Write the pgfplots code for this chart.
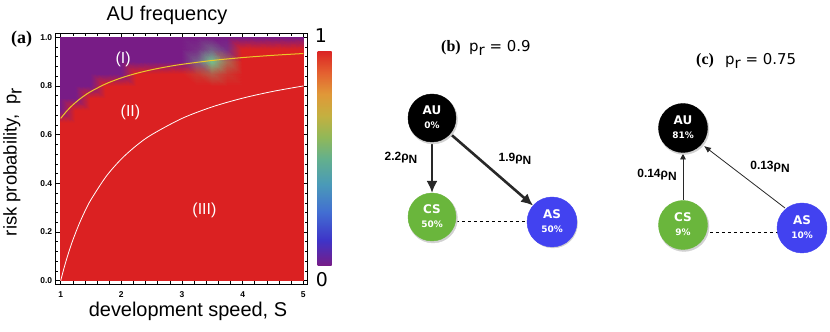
\documentclass[border=0pt]{standalone}
\usepackage{fontspec}
\setmainfont{Liberation Sans}
\newfontfamily\serifb{Liberation Serif}
\newfontfamily\dejavu{DejaVu Sans}
\usepackage{pgfplots}
\pgfplotsset{compat=1.18}
\usetikzlibrary{arrows.meta}

\definecolor{nodegreen}{RGB}{106,182,60}
\definecolor{nodeblue}{RGB}{66,66,240}
\definecolor{arrowgray}{RGB}{40,40,40}
\definecolor{curveyellow}{RGB}{236,200,40}

% Mathematica-like "Rainbow" scale for the colour bar
\pgfplotsset{
  colormap={mmrainbow}{
    rgb255(0pt)=(120,28,134)
    rgb255(12pt)=(62,52,200)
    rgb255(25pt)=(66,110,210)
    rgb255(38pt)=(74,154,184)
    rgb255(50pt)=(100,176,140)
    rgb255(60pt)=(145,184,88)
    rgb255(70pt)=(196,176,64)
    rgb255(80pt)=(224,152,56)
    rgb255(90pt)=(228,96,48)
    rgb255(100pt)=(219,36,36)
  }
}

\begin{document}
\begin{tikzpicture}
\useasboundingbox (0,0) rectangle (830bp,332bp);

% ---------------- panel (a): AU frequency ----------------
\begin{axis}[
  at={(55.7bp,48bp)}, anchor=south west,
  scale only axis, width=252bp, height=250.7bp,
  xmin=0.9176, xmax=5.0725, ymin=-0.0136, ymax=1.0164,
  xtick={1,2,3,4,5}, ytick={0,0.2,0.4,0.6,0.8,1},
  minor x tick num=4, minor y tick num=4,
  tick align=inside, tick pos=both,
  xticklabel pos=left, yticklabel pos=left,
  major tick length=4bp, minor tick length=2.5bp,
  tick style={black, line width=0.6bp},
  axis line style={line width=1bp},
  /pgf/number format/assume math mode=true,
  tick label style={font=\fontsize{8.5}{9}\selectfont\bfseries},
  yticklabel style={/pgf/number format/fixed, /pgf/number format/fixed zerofill,
                    /pgf/number format/precision=1},
  xticklabel style={yshift=-4bp},
  point meta min=0, point meta max=1,
  colormap name=mmrainbow,
  colorbar,
  colorbar style={at={(parent axis.north east)}, anchor=north west,
                  xshift=1.3bp, yshift=-17.7bp, scale only axis,
                  width=24bp, height=215bp, ytick=\empty,
                  axis line style={draw=none}},
]
% AU frequency v on a (S, p_r) grid; colours interpolated between the grid points
\addplot[surf, shader=interp, mesh/color input=explicit mathparse,
  point meta={symbolic={
    (\thisrow{v}<0.45 ? 0.471-0.04*\thisrow{v} : 0.45+0.74*(\thisrow{v}-0.45)),
    (\thisrow{v}<0.45 ? 0.109+1.42*\thisrow{v} : 0.75-1.125*(\thisrow{v}-0.45)),
    (\thisrow{v}<0.45 ? 0.527+0.05*\thisrow{v} : 0.55-0.76*(\thisrow{v}-0.45))}}]
  table[x=S, y=p] {
S p v
1 0 1
1.25 0 1
1.5 0 1
1.75 0 1
2 0 1
2.25 0 1
2.5 0 1
2.75 0 1
3 0 1
3.25 0 1
3.5 0 1
3.75 0 1
4 0 1
4.25 0 1
4.5 0 1
4.75 0 1
5 0 1

1 0.65 1
1.25 0.65 1
1.5 0.65 1
1.75 0.65 1
2 0.65 1
2.25 0.65 1
2.5 0.65 1
2.75 0.65 1
3 0.65 1
3.25 0.65 1
3.5 0.65 1
3.75 0.65 1
4 0.65 1
4.25 0.65 1
4.5 0.65 1
4.75 0.65 1
5 0.65 1

1 0.7 0
1.25 0.7 1
1.5 0.7 1
1.75 0.7 1
2 0.7 1
2.25 0.7 1
2.5 0.7 1
2.75 0.7 1
3 0.7 1
3.25 0.7 1
3.5 0.7 1
3.75 0.7 1
4 0.7 1
4.25 0.7 1
4.5 0.7 1
4.75 0.7 1
5 0.7 1

1 0.75 0
1.25 0.75 0
1.5 0.75 1
1.75 0.75 1
2 0.75 1
2.25 0.75 1
2.5 0.75 1
2.75 0.75 1
3 0.75 1
3.25 0.75 1
3.5 0.75 1
3.75 0.75 1
4 0.75 1
4.25 0.75 1
4.5 0.75 1
4.75 0.75 1
5 0.75 1

1 0.8 0
1.25 0.8 0
1.5 0.8 0
1.75 0.8 1
2 0.8 1
2.25 0.8 1
2.5 0.8 1
2.75 0.8 1
3 0.8 1
3.25 0.8 1
3.5 0.8 1
3.75 0.8 1
4 0.8 1
4.25 0.8 1
4.5 0.8 1
4.75 0.8 1
5 0.8 1

1 0.85 0
1.25 0.85 0
1.5 0.85 0
1.75 0.85 0
2 0.85 0
2.25 0.85 1
2.5 0.85 1
2.75 0.85 1
3 0.85 1
3.25 0.85 0.92
3.5 0.85 0.8
3.75 0.85 0.92
4 0.85 1
4.25 0.85 1
4.5 0.85 1
4.75 0.85 1
5 0.85 1

1 0.9 0
1.25 0.9 0
1.5 0.9 0
1.75 0.9 0
2 0.9 0
2.25 0.9 0
2.5 0.9 0
2.75 0.9 0
3 0.9 0
3.25 0.9 0.18
3.5 0.9 0.45
3.75 0.9 0.75
4 0.9 1
4.25 0.9 1
4.5 0.9 1
4.75 0.9 1
5 0.9 1

1 0.95 0
1.25 0.95 0
1.5 0.95 0
1.75 0.95 0
2 0.95 0
2.25 0.95 0
2.5 0.95 0
2.75 0.95 0
3 0.95 0
3.25 0.95 0.05
3.5 0.95 0.18
3.75 0.95 0.05
4 0.95 1
4.25 0.95 1
4.5 0.95 1
4.75 0.95 1
5 0.95 1

1 1 0
1.25 1 0
1.5 1 0
1.75 1 0
2 1 0
2.25 1 0
2.5 1 0
2.75 1 0
3 1 0
3.25 1 0
3.5 1 0
3.75 1 0
4 1 0
4.25 1 0
4.5 1 0
4.75 1 0
5 1 0
};
% boundary II / III
\addplot[white, line width=0.8bp, smooth] coordinates {
  (1,0) (1.05,0.0476) (1.1,0.0909) (1.15,0.1304) (1.2,0.1667) (1.3,0.2308)
  (1.4,0.2857) (1.5,0.3333) (1.75,0.4286) (2,0.5) (2.25,0.5556) (2.5,0.6)
  (3,0.6667) (3.5,0.7143) (4,0.75) (4.5,0.7778) (5,0.8)};
% boundary I / II
\addplot[curveyellow, line width=1bp, smooth] coordinates {
  (1,0.6667) (1.1,0.6970) (1.2,0.7222) (1.3,0.7436) (1.4,0.7619) (1.5,0.7778)
  (1.75,0.8095) (2,0.8333) (2.25,0.8519) (2.5,0.8667) (2.75,0.8788) (3,0.8889)
  (3.5,0.9048) (4,0.9167) (4.5,0.9259) (5,0.9333)};
\node[white, font=\fontsize{16}{16}\selectfont] at (2.03,0.91) {(I)};
\node[white, font=\fontsize{16}{16}\selectfont] at (2.15,0.693) {(II)};
\node[white, font=\fontsize{16}{16}\selectfont] at (3.37,0.29) {(III)};
\end{axis}

\node[anchor=base, font=\fontsize{20}{20}\selectfont] at (167bp,311bp) {AU frequency};
\node[anchor=base west, inner sep=0pt, font=\serifb\bfseries\fontsize{18}{18}\selectfont] at (11bp,288.5bp) {(a)};
\node[anchor=base, font=\fontsize{20}{20}\selectfont] at (188bp,16bp) {development speed, S};
\node[rotate=90, font=\fontsize{18.5}{18.5}\selectfont] at (12.5bp,170bp) {risk probability,\ \ p\raisebox{-5bp}{r}};
\node[anchor=base, font=\dejavu\fontsize{19}{19}\selectfont] at (321bp,289bp) {1};
\node[anchor=base, font=\dejavu\fontsize{19}{19}\selectfont] at (322bp,45bp) {0};

% ---------------- panels (b) and (c): transition diagrams ----------------
\begin{axis}[
  at={(0bp,0bp)}, anchor=south west,
  scale only axis, width=830bp, height=332bp,
  xmin=0, xmax=830, ymin=0, ymax=332,
  hide axis, clip=false,
]
% (b) p_r = 0.9
\addplot[arrowgray, line width=2.6bp, -{Latex[length=12bp,width=11bp]}] coordinates {(432,190) (432,139)};
\addplot[arrowgray, line width=2.6bp, -{Latex[length=12bp,width=11bp]}] coordinates {(450.1,198.3) (533.1,126.4)};
\addplot[black, line width=0.7bp, dashed] coordinates {(456,110.7) (527,110.7)};
\addplot[only marks, mark=*, mark size=24.5bp, black!18] coordinates {(433,212.5) (433,113.5) (553,108.5)};
\addplot[only marks, mark=*, mark size=24bp, black] coordinates {(432,214)};
\addplot[only marks, mark=*, mark size=24bp, nodegreen] coordinates {(432,115)};
\addplot[only marks, mark=*, mark size=25bp, nodeblue] coordinates {(552,110)};
% (c) p_r = 0.75
\addplot[arrowgray, line width=0.8bp, -{Latex[length=7bp,width=6bp]}] coordinates {(683,131.5) (683,179.5)};
\addplot[arrowgray, line width=0.8bp, -{Latex[length=7bp,width=6bp]}] coordinates {(785,124) (704,186)};
\addplot[black, line width=0.7bp, dashed] coordinates {(710,99.7) (778,99.7)};
\addplot[only marks, mark=*, mark size=25bp, black!18] coordinates {(684,202.5) (684,105.5)};
\addplot[only marks, mark=*, mark size=24.5bp, black] coordinates {(683,204)};
\addplot[only marks, mark=*, mark size=24.5bp, nodegreen] coordinates {(683,107)};
\addplot[only marks, mark=*, mark size=25bp, nodeblue] coordinates {(802,104)};

\node[font=\bfseries\fontsize{12}{12}\selectfont] at (401,174) {2.2ρ\raisebox{-3.5bp}{N}};
\node[font=\bfseries\fontsize{12}{12}\selectfont] at (515,173) {1.9ρ\raisebox{-3.5bp}{N}};
\node[font=\bfseries\fontsize{12}{12}\selectfont] at (657,157) {0.14ρ\raisebox{-3.5bp}{N}};
\node[font=\bfseries\fontsize{12}{12}\selectfont] at (770,165) {0.13ρ\raisebox{-3.5bp}{N}};

\node[anchor=base west, inner sep=0pt, font=\serifb\bfseries\fontsize{16}{16}\selectfont] at (441,280) {(b)};
\node[anchor=base west, inner sep=0pt, font=\dejavu\fontsize{15}{15}\selectfont] at (469,280) {p\raisebox{-4bp}{r} = 0.9};
\node[anchor=base west, inner sep=0pt, font=\serifb\bfseries\fontsize{16}{16}\selectfont] at (696,267) {(c)};
\node[anchor=base west, inner sep=0pt, font=\dejavu\fontsize{15}{15}\selectfont] at (725,267) {p\raisebox{-4bp}{r} = 0.75};
\end{axis}

% labels inside the circles, set above the circle markers
\begin{scope}[every node/.style={text=white, inner sep=0pt}]
\node[font=\dejavu\bfseries\fontsize{12}{12}\selectfont] at (432bp,221.5bp) {AU};
\node[font=\dejavu\bfseries\fontsize{9}{9}\selectfont] at (432bp,207bp) {0\%};
\node[font=\dejavu\bfseries\fontsize{12}{12}\selectfont] at (432bp,122.5bp) {CS};
\node[font=\dejavu\bfseries\fontsize{9}{9}\selectfont] at (432bp,108bp) {50\%};
\node[font=\dejavu\bfseries\fontsize{12}{12}\selectfont] at (552bp,117.5bp) {AS};
\node[font=\dejavu\bfseries\fontsize{9}{9}\selectfont] at (552bp,103bp) {50\%};
\node[font=\dejavu\bfseries\fontsize{12}{12}\selectfont] at (683bp,211.5bp) {AU};
\node[font=\dejavu\bfseries\fontsize{9}{9}\selectfont] at (683bp,197bp) {81\%};
\node[font=\dejavu\bfseries\fontsize{12}{12}\selectfont] at (683bp,114.5bp) {CS};
\node[font=\dejavu\bfseries\fontsize{9}{9}\selectfont] at (683bp,100bp) {9\%};
\node[font=\dejavu\bfseries\fontsize{12}{12}\selectfont] at (802bp,111.5bp) {AS};
\node[font=\dejavu\bfseries\fontsize{9}{9}\selectfont] at (802bp,97bp) {10\%};
\end{scope}
\end{tikzpicture}
\end{document}
